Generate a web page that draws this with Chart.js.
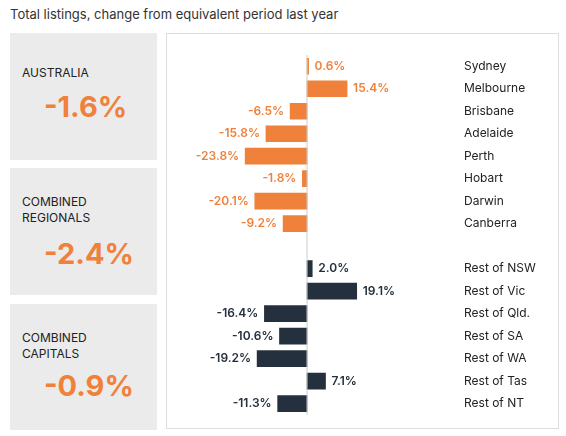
<!DOCTYPE html>
<html><head>
<script src="https://cdn.jsdelivr.net/npm/chart.js@4"></script>
<style>
body{margin:0;width:566px;height:436px;font-family:Inter,"Open Sans",sans-serif;background:#fff;position:relative;overflow:hidden}
.title{position:absolute;left:10px;top:6px;font-size:13px;color:#333}
.box{position:absolute;left:10px;width:147px;background:#ebebeb;color:#222}
.box .lab{position:absolute;left:12px;font-size:12px;line-height:16px}
.box .big{position:absolute;left:34px;font-size:29px;font-weight:700;color:#f0813a}
.panel{position:absolute;left:166px;top:33px;width:393px;height:396px;border:1px solid #ddd;box-sizing:border-box}
canvas{position:absolute;left:0;top:0}
</style></head><body>
<div class="title">Total listings, change from equivalent period last year</div>
<div class="box" style="top:33px;height:127px"><div class="lab" style="top:32px">AUSTRALIA</div><div class="big" style="top:56px">-1.6%</div></div>
<div class="box" style="top:168px;height:127px"><div class="lab" style="top:26px">COMBINED<br>REGIONALS</div><div class="big" style="top:68px">-2.4%</div></div>
<div class="box" style="top:304px;height:126px"><div class="lab" style="top:26px">COMBINED<br>CAPITALS</div><div class="big" style="top:64px">-0.9%</div></div>
<div class="panel"></div>
<canvas id="c" width="566" height="436"></canvas>
<script>
const categories = ['Sydney','Melbourne','Brisbane','Adelaide','Perth','Hobart','Darwin','Canberra','',
  'Rest of NSW','Rest of Vic','Rest of Qld.','Rest of SA','Rest of WA','Rest of Tas','Rest of NT'];
const values = [0.6,15.4,-6.5,-15.8,-23.8,-1.8,-20.1,-9.2,null,2.0,19.1,-16.4,-10.6,-19.2,7.1,-11.3];
const ORANGE = '#f0813a', DARK = '#24303d';
const colors = categories.map((c,i)=> i<8 ? ORANGE : DARK);

const labelPlugin = {
  id:'vals',
  afterDatasetsDraw(chart){
    const ctx = chart.ctx, meta = chart.getDatasetMeta(0);
    ctx.save();
    ctx.font = '600 12px Inter, sans-serif';
    ctx.textBaseline = 'middle';
    meta.data.forEach((bar,i)=>{
      const v = values[i]; if (v==null) return;
      ctx.fillStyle = colors[i];
      const t = v.toFixed(1)+'%';
      if (v>=0){ctx.textAlign='left';ctx.fillText(t,bar.x+6,bar.y);}
      else {ctx.textAlign='right';ctx.fillText(t,bar.x-6,bar.y);}
    });
    const x0 = chart.scales.x.getPixelForValue(0);
    ctx.strokeStyle='#ccc';ctx.lineWidth=1;
    ctx.beginPath();ctx.moveTo(x0,chart.chartArea.top);ctx.lineTo(x0,chart.chartArea.bottom);ctx.stroke();
    ctx.restore();
  }
};

new Chart(document.getElementById('c'), {
  type:'bar',
  data:{labels:categories,datasets:[{data:values,backgroundColor:colors,barThickness:16}]},
  options:{
    indexAxis:'y',responsive:false,animation:false,
    layout:{padding:{left:170,top:55,bottom:13,right:0}},
    scales:{
      x:{min:-52.7,max:51.9,display:false},
      y:{position:'right',grid:{display:false},border:{display:false},
         ticks:{color:'#222',font:{size:12,family:'Inter, sans-serif'},padding:14,crossAlign:'near'},
         afterFit(s){s.width=124;}}
    },
    plugins:{legend:{display:false},tooltip:{enabled:false}}
  },
  plugins:[labelPlugin]
});
</script>
</body></html>
